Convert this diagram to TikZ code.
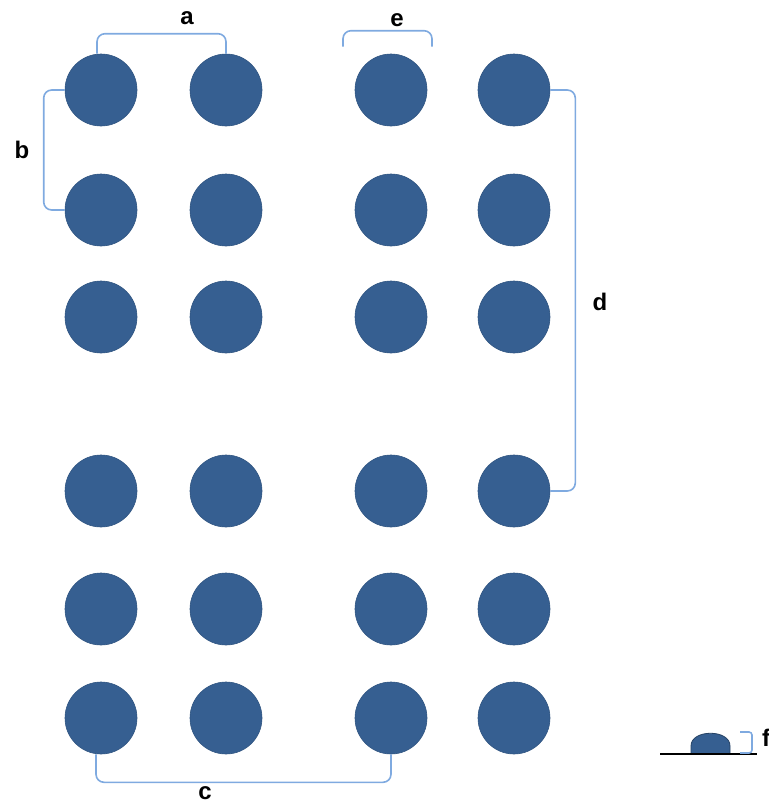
\documentclass[tikz,border=0pt]{standalone}
\usepackage{fontspec}
\setmainfont{Liberation Sans}
\usetikzlibrary{positioning}
\definecolor{dotblue}{HTML}{365F91}
\definecolor{brkblue}{HTML}{7FAAE0}

\begin{document}
\begin{tikzpicture}[x=1pt,y=-1pt,
    dot/.style={circle,fill=dotblue,draw=dotblue!90!black,line width=0.6pt,
      minimum size=72pt,inner sep=0pt},
    brk/.style={draw=brkblue,line width=1.6pt,rounded corners=8pt},
    lbl/.style={font=\fontsize{24}{28}\selectfont\bfseries}]

    \useasboundingbox (0,0) rectangle (769,804);

    % grid of dots, rows from the top
    \foreach \y [count=\r] in {90,210,317,491,609,718}
      \foreach \x [count=\c] in {101,226,391,514}
        \node[dot] (r\r c\c) at (\x,\y) {};

    % brackets
    \draw[brk] ([xshift=-4pt]r1c1.north) |- ([yshift=20pt]r1c2.north) -- (r1c2.north);
    \draw[brk] (r1c1.west) -- ++(-21,0) |- (r2c1.west);
    \draw[brk] ([shift={(-48,-7)}]r1c3.north) -- ++(0,-16) -- ++(89,0) -- ++(0,16);
    \draw[brk] (r1c4.east) -- ++(25,0) |- (r4c4.east);
    \draw[brk] ([xshift=-5pt]r6c1.south) |- ([yshift=-28pt]r6c3.south) -- (r6c3.south);

    % small dome on the ground line
    \coordinate (gl) at (660,754);
    \coordinate (gr) at (757,754);
    \fill[dotblue,draw=dotblue!70!black,line width=0.8pt]
      (691,754) -- (691,746) .. controls (691,729) and (730,729) .. (730,746)
      -- (730,754) -- cycle;
    \draw[black,line width=1.5pt] (gl) -- (gr);
    \draw[brk,rounded corners=3pt] (740,732) -- (752,732) -- (752,753) -- (740,753);

    % labels
    \node[lbl] (la) at (187,18) {a};
    \node[lbl] (lb) at (22,150) {b};
    \node[lbl] (lc) at (205,793) {c};
    \node[lbl] (ld) at (600,302) {d};
    \node[lbl] (le) at (397,20) {e};
    \node[lbl] (lf) at (766,738) {f};
\end{tikzpicture}
\end{document}
